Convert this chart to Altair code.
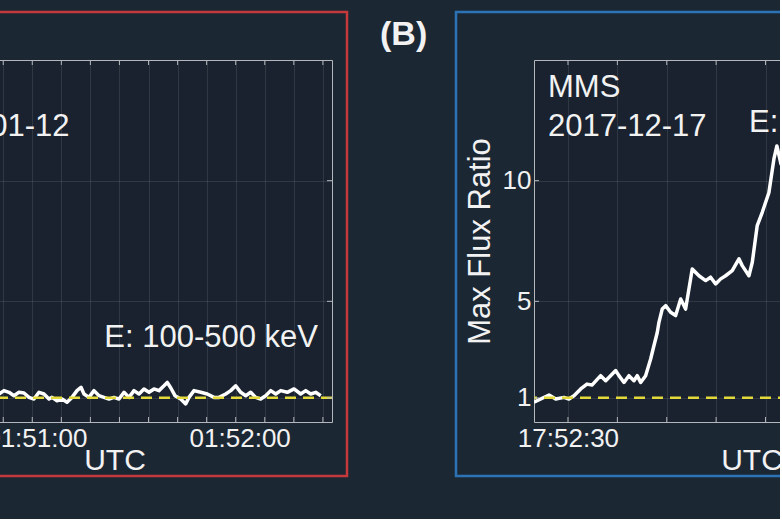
import altair as alt
import pandas as pd

# ---------------- data ----------------
# Panel A: seconds after 2018-01-12 01:50:00 UTC
left_sec = [48.7, 50.18, 51.65, 53.13, 54.6, 56.08, 57.55, 59.03, 60.5, 61.98,
            63.45, 64.93, 65.81, 67.29, 68.76, 70.24, 71.71, 73.19, 74.37, 75.25,
            76.73, 78.2, 79.68, 81.15, 82.63, 84.1, 85.58, 87.05, 88.53, 90.0,
            91.48, 92.95, 94.43, 95.9, 97.37, 98.85, 99.82, 100.91, 102.09, 103.78,
            105.25, 106.22, 107.7, 109.68, 111.62, 113.6, 115.07, 117.05, 118.53, 120.0,
            121.47, 122.95, 124.42, 125.9, 127.37, 128.85, 130.32, 131.8, 133.27, 135.22,
            137.2, 139.17, 140.65, 142.12, 143.6, 145.07]
left_ratio = [1.10, 1.16, 1.30, 1.23, 1.09, 1.23, 1.20, 1.02, 0.95, 1.23,
              1.16, 0.95, 1.02, 0.88, 0.95, 0.82, 1.02, 1.30, 1.44, 1.16,
              1.02, 1.30, 1.09, 1.02, 0.95, 1.02, 0.95, 1.23, 1.02, 1.30,
              1.16, 1.37, 1.23, 1.37, 1.30, 1.50, 1.64, 1.40, 1.09, 0.95,
              0.75, 1.02, 1.30, 1.23, 1.16, 1.02, 1.02, 1.16, 1.30, 1.50,
              1.23, 1.09, 1.23, 1.02, 0.95, 1.09, 1.30, 1.16, 1.30, 1.23,
              1.37, 1.16, 1.30, 1.16, 1.23, 1.09]
left_domain_sec = [20.1, 148.4]
left_tick_sec = [25.71, 34.29, 42.86, 51.43, 60.0, 68.57, 77.14, 85.71, 94.29,
                 102.86, 111.43, 120.0, 128.57, 137.14, 145.71]

# Panel B: seconds after 2017-12-17 17:52:00 UTC
right_sec = [26.56, 28.08, 28.76, 29.6, 30.1, 30.61, 31.29, 31.92, 32.43, 33.31,
             33.82, 34.83, 35.16, 35.67, 36.17, 36.68, 37.01, 37.36, 37.86, 38.37,
             38.7, 39.04, 39.21, 39.54, 39.89, 40.39, 40.9, 41.41, 41.91, 42.58,
             43.26, 43.94, 44.44, 44.95, 45.46, 45.96, 46.63, 47.31, 47.64, 48.32,
             48.66, 49.16, 49.67, 50.34, 50.85, 51.15, 51.56, 51.96]
right_ratio = [0.82, 1.12, 0.95, 1.02, 0.95, 1.09, 1.37, 1.57, 1.53, 1.92,
               1.71, 2.13, 1.92, 1.64, 1.92, 1.71, 1.92, 1.64, 1.92, 2.61,
               3.16, 3.71, 4.13, 4.68, 4.82, 4.55, 4.41, 5.10, 4.68, 6.34,
               6.06, 5.86, 6.0, 5.72, 5.93, 6.06, 6.27, 6.76, 6.48, 6.06,
               6.62, 8.14, 8.69, 9.5, 10.9, 11.44, 10.7, 11.0]
right_domain_sec = [26.56, 70.6]
right_tick_sec = [30, 35, 40, 45, 50, 55, 60, 65, 70]

left_base_iso = "2018-01-12T01:50:00Z"
right_base_iso = "2017-12-17T17:52:00Z"
left_date = "2018-01-12"
right_date = "2017-12-17"
mission = "MMS"
energy = "E: 100-500 keV"
label_b = "(B)"
y_ticks = [1, 5, 10]
y_domain = [0, 15]
baseline_ratio = [1]
y_title = "Max Flux Ratio"
x_title = "UTC"

# ---------------- style ----------------
W, H = 435, 362
FONT = "Liberation Sans"
BG = "#1c2734"
PLOT_BG = "#19222e"
BOX = "#b4b8bd"
TEXT = "#f2f2f2"
YELLOW = "#e3d93b"
RED = "#c4393b"
BLUE = "#2b73b4"


def to_ms(base_iso, secs):
    base = pd.Timestamp(base_iso).value // 10**6
    return [int(round(base + s * 1000)) for s in secs]


def txt(s, x, y, align="left", size=31, weight="normal"):
    return alt.Chart(pd.DataFrame({"s": [s]})).mark_text(
        align=align, baseline="alphabetic", fontSize=size, fontWeight=weight,
        color=TEXT, font=FONT
    ).encode(x=alt.value(x), y=alt.value(y), text="s:N")


def panel(base_iso, secs, ratios, dom_sec, tick_sec, label_every, label_dx,
          border_color, texts):
    df = pd.DataFrame({"t": to_ms(base_iso, secs), "ratio": ratios})
    ticks_ms = to_ms(base_iso, tick_sec)
    xscale = alt.Scale(type="utc", domain=to_ms(base_iso, dom_sec), nice=False)
    yscale = alt.Scale(domain=y_domain, nice=False, zero=False)
    label_expr = (f"(utcseconds(datum.value) % {label_every} == 0) && "
                  f"(utcmilliseconds(datum.value) == 0) ? "
                  f"utcFormat(datum.value, '%H:%M:%S') : ''")
    xaxis = alt.Axis(values=ticks_ms, tickCount=60, labelExpr=label_expr,
                     title=x_title, grid=True, ticks=False, tickSize=0,
                     domain=False, labelPadding=24, labelBaseline="alphabetic",
                     labelOffset=label_dx, labelFlush=False, labelOverlap=False,
                     titleY=47, titleBaseline="alphabetic")
    yaxis = alt.Axis(values=y_ticks, title=y_title, grid=True, ticks=False,
                     tickSize=0, domain=False, labelPadding=3,
                     labelBaseline="middle", titleX=-45, titleY=H / 2,
                     titleAngle=270, titleBaseline="alphabetic",
                     titleAlign="center", titleFontSize=31)

    line = alt.Chart(df).mark_line(
        color="white", strokeWidth=3.5, strokeJoin="round", clip=True
    ).encode(x=alt.X("t:T", scale=xscale, axis=xaxis),
             y=alt.Y("ratio:Q", scale=yscale, axis=yaxis))

    ref = alt.Chart(pd.DataFrame({"ratio": baseline_ratio})).mark_rule(
        color=YELLOW, strokeDash=[11, 7], strokeWidth=2.5
    ).encode(y=alt.Y("ratio:Q", scale=yscale))

    tdf = pd.DataFrame({"t": ticks_ms})
    xt_top = alt.Chart(tdf).mark_rule(color=BOX, strokeWidth=1).encode(
        x=alt.X("t:T", scale=xscale), y=alt.value(0), y2=alt.value(5))
    xt_bot = alt.Chart(tdf).mark_rule(color=BOX, strokeWidth=1).encode(
        x=alt.X("t:T", scale=xscale), y=alt.value(H - 5), y2=alt.value(H))
    ydf = pd.DataFrame({"ratio": y_ticks})
    yt_l = alt.Chart(ydf).mark_rule(color=BOX, strokeWidth=1).encode(
        y=alt.Y("ratio:Q", scale=yscale), x=alt.value(0), x2=alt.value(5))
    yt_r = alt.Chart(ydf).mark_rule(color=BOX, strokeWidth=1).encode(
        y=alt.Y("ratio:Q", scale=yscale), x=alt.value(W - 5), x2=alt.value(W))

    border = alt.Chart(pd.DataFrame({"a": [0]})).mark_rect(
        filled=False, stroke=border_color, strokeWidth=2.5
    ).encode(x=alt.value(-78), x2=alt.value(W + 15),
             y=alt.value(-48), y2=alt.value(416))

    layers = [line, ref, xt_top, xt_bot, yt_l, yt_r, border] + texts
    return alt.layer(*layers).properties(width=W, height=H)


left = panel(left_base_iso, left_sec, left_ratio, left_domain_sec, left_tick_sec,
             60, 4, RED,
             [txt(left_date, 14, 76), txt(energy, W - 14, 287, align="right")])

right = panel(right_base_iso, right_sec, right_ratio, right_domain_sec,
              right_tick_sec, 30, 0, BLUE,
              [txt(mission, 14, 37), txt(right_date, 14, 76),
               txt(energy, 215, 72),
               txt(label_b, -154, -15, size=34, weight="bold")])

chart = alt.hconcat(left, right, spacing=202, bounds="flush").properties(
    padding={"left": -183, "right": -206, "top": 10, "bottom": 41},
    autosize=alt.AutoSizeParams(type="pad"),
).configure(background=BG).configure_view(
    fill=PLOT_BG, stroke=BOX, strokeWidth=1
).configure_axis(
    labelFont=FONT, titleFont=FONT, labelFontSize=26, titleFontSize=30,
    labelColor=TEXT, titleColor=TEXT, titleFontWeight="normal",
    gridColor="#ffffff", gridOpacity=0.1, gridWidth=1
)

chart.save("out.html", embed_options={"renderer": "svg", "actions": False})
